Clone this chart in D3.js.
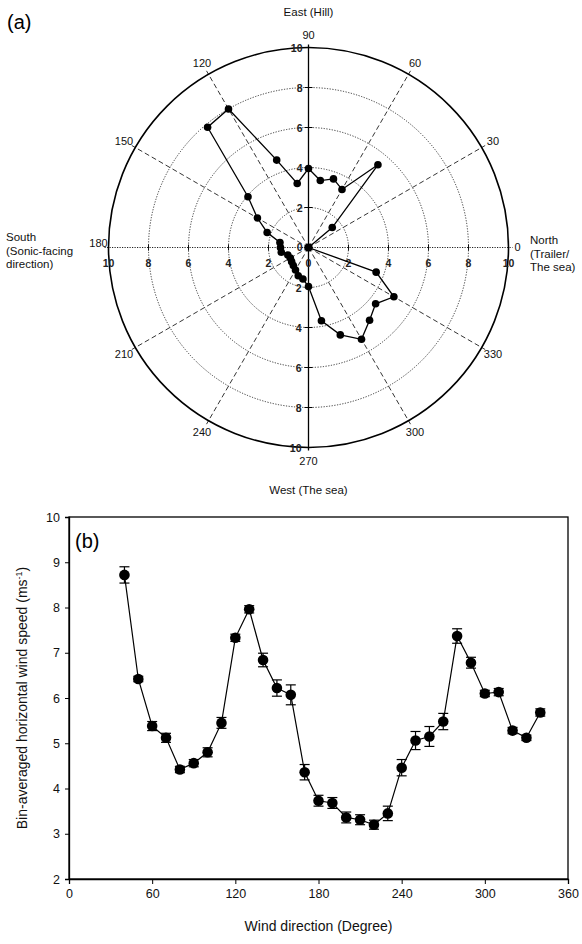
<!DOCTYPE html>
<html>
<head>
<meta charset="utf-8">
<script src="https://cdn.jsdelivr.net/npm/d3@7"></script>
<style>
  html, body { margin: 0; padding: 0; background: #fff; }
  svg { display: block; font-family: "Liberation Sans", Arial, sans-serif; }
</style>
</head>
<body>
<svg id="fig" width="582" height="944"></svg>
<script>
// ---- (a) directional frequency (%) per 10-degree bin ----
const polarDirections = [0, 10, 20, 30, 40, 50, 60, 70, 80, 90, 100, 110, 120, 130, 140, 150, 160, 170,
  180, 190, 200, 210, 220, 230, 240, 250, 260, 270, 280, 290, 300, 310, 320, 330, 340, 350];
const polarFrequency = [0, 0, 0, 0, 1.55, 5.4, 3.35, 3.65, 3.4, 3.95, 3.25, 4.65, 8.0, 7.85, 3.95, 2.95, 2.2, 1.45,
  1.4, 1.38, 1.1, 1.05, 1.1, 1.18, 1.3, 1.5, 1.6, 1.95, 3.72, 4.65, 5.3, 4.75, 4.38, 4.93, 3.6, 0];
const radialTicks = [2, 4, 6, 8, 10];
const spokeAngles = [0, 30, 60, 90, 120, 150, 180, 210, 240, 270, 300, 330];

// ---- (b) bin-averaged horizontal wind speed with standard error ----
const windDirections = [40, 50, 60, 70, 80, 90, 100, 110, 120, 130, 140, 150, 160, 170, 180, 190,
  200, 210, 220, 230, 240, 250, 260, 270, 280, 290, 300, 310, 320, 330, 340];
const windSpeed = [8.72, 6.42, 5.38, 5.12, 4.42, 4.56, 4.8, 5.45, 7.33, 7.96, 6.84, 6.22, 6.07, 4.36, 3.73, 3.68,
  3.36, 3.31, 3.2, 3.45, 4.46, 5.06, 5.15, 5.48, 7.37, 6.78, 6.1, 6.13, 5.28, 5.12, 5.68];
const windError = [0.18, 0.06, 0.1, 0.1, 0.07, 0.08, 0.1, 0.12, 0.08, 0.08, 0.15, 0.18, 0.22, 0.17, 0.12, 0.12,
  0.12, 0.11, 0.1, 0.16, 0.18, 0.2, 0.22, 0.18, 0.16, 0.12, 0.07, 0.08, 0.07, 0.06, 0.08];
const xTicks = [0, 60, 120, 180, 240, 300, 360];
const yTicks = [2, 3, 4, 5, 6, 7, 8, 9, 10];

const svg = d3.select("#fig");

// ================= Panel (a): polar plot =================
const cx = 308.5, cy = 247.5;
const r = d3.scaleLinear().domain([0, 10]).range([0, 200]);
const rad = d => d * Math.PI / 180;
const px = (deg, v) => cx + r(v) * Math.cos(rad(deg));
const py = (deg, v) => cy - r(v) * Math.sin(rad(deg));

const polar = svg.append("g");

// dotted rings
polar.selectAll("circle.ring")
  .data(radialTicks.filter(t => t < 10))
  .join("circle")
  .attr("cx", cx).attr("cy", cy).attr("r", d => r(d))
  .attr("fill", "none").attr("stroke", "#222")
  .attr("stroke-width", 0.9).attr("stroke-dasharray", "1.2,1.5");

// dashed spokes every 30 degrees
polar.selectAll("line.spoke")
  .data(spokeAngles.filter(a => a % 90 !== 0))
  .join("line")
  .attr("x1", cx).attr("y1", cy)
  .attr("x2", d => cx + (r(10) + 4) * Math.cos(rad(d)))
  .attr("y2", d => cy - (r(10) + 4) * Math.sin(rad(d)))
  .attr("stroke", "#111").attr("stroke-width", 0.85).attr("stroke-dasharray", "5,3");

// horizontal axis (0-180), dotted
polar.append("line")
  .attr("x1", px(180, 10) - 4).attr("y1", cy).attr("x2", px(0, 10) + 4).attr("y2", cy)
  .attr("stroke", "#222").attr("stroke-width", 1.1).attr("stroke-dasharray", "1.2,1.3");

// vertical axis (90-270), solid
polar.append("line")
  .attr("x1", cx).attr("y1", py(90, 10) - 3).attr("x2", cx).attr("y2", py(270, 10) + 3)
  .attr("stroke", "#000").attr("stroke-width", 1.3);

// outer ring
polar.append("circle")
  .attr("cx", cx).attr("cy", cy).attr("r", r(10))
  .attr("fill", "none").attr("stroke", "#000").attr("stroke-width", 1.6);

// ticks along the vertical axis
[90, 270].forEach(a => {
  polar.selectAll(null).data(radialTicks).join("line")
    .attr("x1", cx - 4).attr("x2", cx + 4)
    .attr("y1", d => py(a, d)).attr("y2", d => py(a, d))
    .attr("stroke", "#000").attr("stroke-width", 1);
});
// ticks along the horizontal axis
[0, 180].forEach(a => {
  polar.selectAll(null).data(radialTicks).join("line")
    .attr("x1", d => px(a, d)).attr("x2", d => px(a, d))
    .attr("y1", cy - 3).attr("y2", cy + 3)
    .attr("stroke", "#000").attr("stroke-width", 0.9);
});

const tickFont = 10.5;
// radial labels on vertical axis (left of it)
const vLabels = [0].concat(radialTicks);
polar.selectAll(null).data(vLabels).join("text")
  .attr("x", cx - 6).attr("y", d => d === 0 ? cy - 1 : py(90, d))
  .attr("text-anchor", "end").attr("dominant-baseline", "central")
  .attr("font-size", tickFont).attr("font-weight", "bold").attr("fill", "#222")
  .text(d => d);
polar.selectAll(null).data(radialTicks).join("text")
  .attr("x", cx - 7).attr("y", d => py(270, d))
  .attr("text-anchor", "end").attr("dominant-baseline", "central")
  .attr("font-size", tickFont).attr("font-weight", "bold").attr("fill", "#222")
  .text(d => d);
// radial labels on horizontal axis (below it)
polar.selectAll(null).data([0].concat(radialTicks)).join("text")
  .attr("x", d => px(0, d)).attr("y", cy + 15)
  .attr("text-anchor", "middle").attr("dominant-baseline", "central")
  .attr("font-size", tickFont).attr("font-weight", "bold").attr("fill", "#222")
  .text(d => d);
polar.selectAll(null).data(radialTicks).join("text")
  .attr("x", d => px(180, d)).attr("y", cy + 15)
  .attr("text-anchor", "middle").attr("dominant-baseline", "central")
  .attr("font-size", tickFont).attr("font-weight", "bold").attr("fill", "#222")
  .text(d => d);

// angle labels around the ring
polar.selectAll("text.ang")
  .data(spokeAngles)
  .join("text")
  .attr("x", d => d === 180 ? px(180, 10) - 10 : d === 0 ? px(0, 10) + 9 : cx + (r(10) + 13) * Math.cos(rad(d)))
  .attr("y", d => d === 180 ? cy - 5 : d === 0 ? cy - 1 : cy - (r(10) + 13) * Math.sin(rad(d)))
  .attr("text-anchor", "middle").attr("dominant-baseline", "central")
  .attr("font-size", 11).attr("fill", "#111")
  .text(d => d);

// frequency trace (closed through the centre)
const radial = d3.lineRadial()
  .angle(i => Math.PI / 2 - rad(polarDirections[i]))
  .radius(i => r(polarFrequency[i]))
  .curve(d3.curveLinearClosed);
polar.append("path")
  .attr("transform", `translate(${cx},${cy})`)
  .attr("d", radial(d3.range(polarDirections.length)))
  .attr("fill", "none").attr("stroke", "#000").attr("stroke-width", 1.3);

polar.selectAll("circle.pt")
  .data(d3.range(polarDirections.length))
  .join("circle")
  .attr("cx", i => px(polarDirections[i], polarFrequency[i]))
  .attr("cy", i => py(polarDirections[i], polarFrequency[i]))
  .attr("r", 3.8).attr("fill", "#000");

// compass annotations
const ann = svg.append("g").attr("font-size", 11.5).attr("fill", "#111");
ann.append("text").attr("x", cx).attr("y", 16).attr("text-anchor", "middle").text("East (Hill)");
ann.append("text").attr("x", cx).attr("y", 494).attr("text-anchor", "middle").text("West (The sea)");
const south = ann.append("text").attr("x", 6).attr("y", 241);
["South", "(Sonic-facing", "direction)"].forEach((s, i) =>
  south.append("tspan").attr("x", 6).attr("dy", i === 0 ? 0 : 13.5).text(s));
const north = ann.append("text").attr("x", 530).attr("y", 244);
["North", "(Trailer/", "The sea)"].forEach((s, i) =>
  north.append("tspan").attr("x", 530).attr("dy", i === 0 ? 0 : 13.5).text(s));

svg.append("text").attr("x", 7).attr("y", 29).attr("font-size", 20).text("(a)");

// ================= Panel (b): wind speed vs direction =================
const plotL = 69, plotR = 568, plotT = 517, plotB = 879;
const x = d3.scaleLinear().domain([0, 360]).range([plotL, plotR]);
const y = d3.scaleLinear().domain([2, 10]).range([plotB, plotT]);

const gb = svg.append("g");

// frame
gb.append("rect")
  .attr("x", plotL).attr("y", plotT).attr("width", plotR - plotL).attr("height", plotB - plotT)
  .attr("fill", "none").attr("stroke", "#000").attr("stroke-width", 1.3);

const xAxis = gb.append("g").attr("transform", `translate(0,${plotB})`)
  .call(d3.axisBottom(x).tickValues(xTicks).tickSize(5).tickPadding(5));
const yAxis = gb.append("g").attr("transform", `translate(${plotL},0)`)
  .call(d3.axisLeft(y).tickValues(yTicks).tickSize(4).tickPadding(5));
[xAxis, yAxis].forEach(a => {
  a.select(".domain").attr("stroke-width", 1.3);
  a.selectAll(".tick line").attr("stroke-width", 1);
  a.selectAll("text").attr("font-size", 12.5).attr("font-family", "'Liberation Sans', Arial, sans-serif").attr("fill", "#111");
});

// connecting line
const line = d3.line()
  .x(i => x(windDirections[i]))
  .y(i => y(windSpeed[i]));
const idx = d3.range(windDirections.length);
gb.append("path").attr("d", line(idx))
  .attr("fill", "none").attr("stroke", "#000").attr("stroke-width", 1.2);

// error bars
const eb = gb.append("g").attr("stroke", "#000").attr("stroke-width", 1.2);
eb.selectAll("line.v").data(idx).join("line")
  .attr("x1", i => x(windDirections[i])).attr("x2", i => x(windDirections[i]))
  .attr("y1", i => y(windSpeed[i] - windError[i])).attr("y2", i => y(windSpeed[i] + windError[i]));
[1, -1].forEach(sgn => {
  eb.selectAll(null).data(idx).join("line")
    .attr("x1", i => x(windDirections[i]) - 5).attr("x2", i => x(windDirections[i]) + 5)
    .attr("y1", i => y(windSpeed[i] + sgn * windError[i]))
    .attr("y2", i => y(windSpeed[i] + sgn * windError[i]));
});

gb.selectAll("circle.pt").data(idx).join("circle")
  .attr("cx", i => x(windDirections[i])).attr("cy", i => y(windSpeed[i]))
  .attr("r", 5.3).attr("fill", "#000");

svg.append("text").attr("x", 75).attr("y", 548).attr("font-size", 20).text("(b)");

// axis titles
svg.append("text").attr("x", (plotL + plotR) / 2).attr("y", 931)
  .attr("text-anchor", "middle").attr("font-size", 14).attr("fill", "#111")
  .text("Wind direction (Degree)");
const yt = svg.append("text")
  .attr("transform", `translate(27,${(plotT + plotB) / 2}) rotate(-90)`)
  .attr("text-anchor", "middle").attr("font-size", 14).attr("fill", "#111");
yt.append("tspan").text("Bin-averaged horizontal wind speed (ms");
yt.append("tspan").attr("font-size", 9).attr("dy", -5).text("-1");
yt.append("tspan").attr("dy", 5).text(")");
</script>
</body>
</html>
